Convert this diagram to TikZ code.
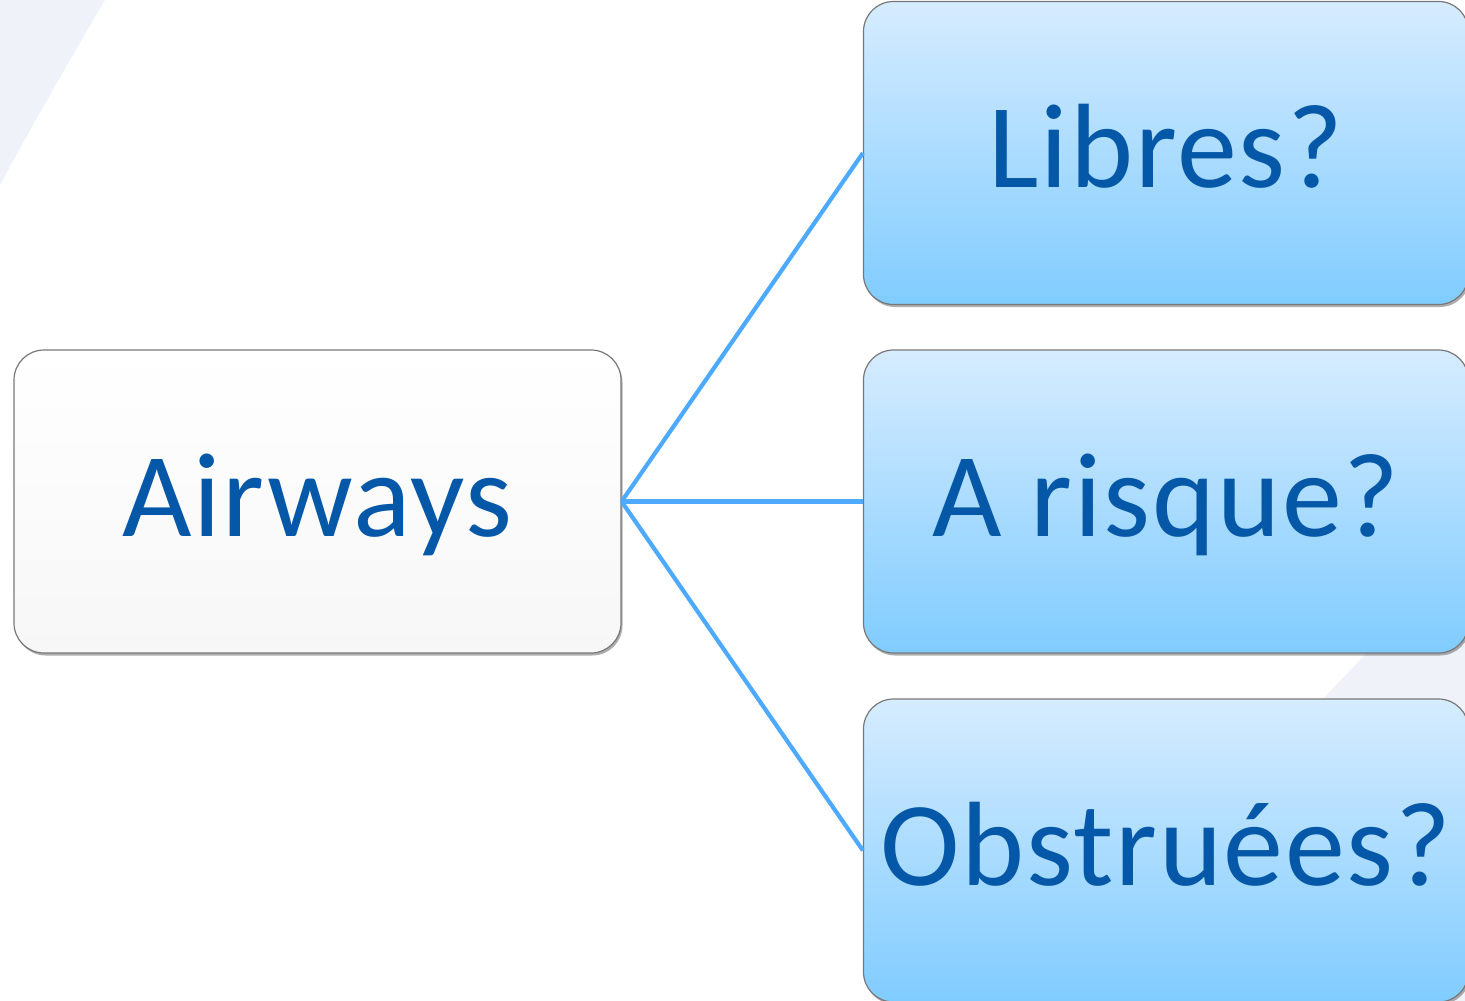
\documentclass[tikz,border=0pt]{standalone}
\usepackage{fontspec}
\setmainfont{Carlito}[LetterSpace=1.5]
\usetikzlibrary{shadows}
\definecolor{swoosh}{RGB}{239,243,249}
\definecolor{linkblue}{RGB}{77,170,255}
\definecolor{textblue}{RGB}{5,88,168}
\definecolor{boxtop}{RGB}{214,236,255}
\definecolor{boxbot}{RGB}{128,204,255}
\definecolor{rootbot}{RGB}{247,247,247}
\definecolor{edgegray}{RGB}{120,120,120}
\tikzset{
  base/.style={rounded corners=30pt, draw=edgegray, line width=1.2pt,
    minimum height=303pt, inner sep=0pt,
    font=\fontsize{120}{125}\selectfont, text=textblue,
    text height=77pt, text depth=8pt,
    drop shadow={shadow xshift=1.5pt, shadow yshift=-2.5pt, opacity=0.45, fill=black!70}},
  rootbox/.style={base, minimum width=607pt, top color=white, bottom color=rootbot},
  leafbox/.style={base, minimum width=605pt, top color=boxtop, bottom color=boxbot},
  link/.style={draw=linkblue, line width=4.2pt}
}
\begin{document}
\begin{tikzpicture}[x=1pt, y=-1pt]
\useasboundingbox (0,0) rectangle (1465,1001);
\clip (0,0) rectangle (1465,1001);
% soft background bands
\fill[swoosh] (0,0) -- (105,0) .. controls (70,60) and (35,120) .. (0,185) -- cycle;
\fill[swoosh] (1250,775) -- (1360,660) .. controls (1450,565) and (1500,520) .. (1560,460) -- (1560,1100) -- (1250,1100) -- cycle;
% boxes
\node[rootbox] (root) at (317.5,501.5) {Airways};
\node[leafbox] (libres) at (1166,153) {Libres?};
\node[leafbox] (risque) at (1166,501.5) {A risque?};
\node[leafbox] (obstr) at (1166,850.5) {Obstruées?};
% connectors
\draw[link] (root.east) -- (libres.west);
\draw[link] (root.east) -- (risque.west);
\draw[link] (root.east) -- (obstr.west);
\end{tikzpicture}
\end{document}
